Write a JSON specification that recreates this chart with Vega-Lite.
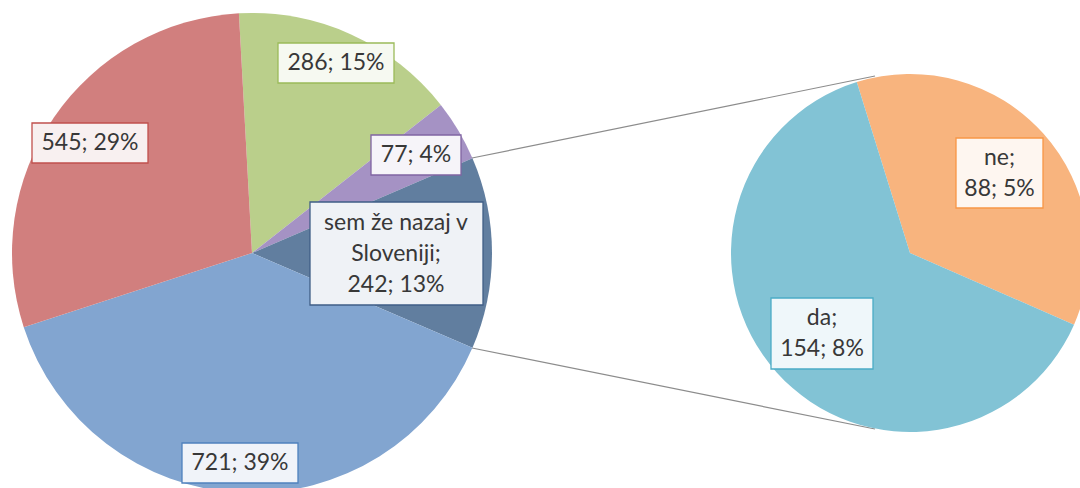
{
  "$schema": "https://vega.github.io/schema/vega-lite/v6.json",
  "width": 1080,
  "height": 488,
  "padding": 0,
  "autosize": "none",
  "background": "white",
  "config": {"view": {"stroke": null}, "axis": {"disable": true}, "legend": {"disable": true},
    "text": {"font": "Lato", "fontSize": 23, "color": "#383838", "align": "center", "baseline": "middle", "lineBreak": "\n", "lineHeight": 31}},
  "datasets": {
    "main": [
      {"cat": "A", "value": 286, "pct": 15, "k": 1, "label": "286; 15%"},
      {"cat": "B", "value": 77, "pct": 4, "k": 2, "label": "77; 4%"},
      {"cat": "sem že nazaj v Sloveniji", "value": 242, "pct": 13, "k": 3, "label": "sem že nazaj v\nSloveniji;\n242; 13%"},
      {"cat": "C", "value": 721, "pct": 39, "k": 4, "label": "721; 39%"},
      {"cat": "D", "value": 545, "pct": 29, "k": 5, "label": "545; 29%"}
    ],
    "second": [
      {"cat": "ne", "value": 88, "pct": 5, "k": 1, "label": "ne;\n88; 5%"},
      {"cat": "da", "value": 154, "pct": 8, "k": 2, "label": "da;\n154; 8%"}
    ]
  },
  "resolve": {"scale": {"theta": "independent"}},
  "layer": [
    {
      "data": {"name": "main"},
      "transform": [{"filter": "datum.k === 3"}],
      "mark": {"type": "rule", "color": "#8C8C8C", "strokeWidth": 1.2},
      "encoding": {
        "x": {"datum": 472, "type": "quantitative", "scale": {"domain": [0, 1080], "nice": false, "zero": false}},
        "y": {"datum": 158, "type": "quantitative", "scale": {"domain": [0, 488], "nice": false, "zero": false, "reverse": true}},
        "x2": {"datum": 875},
        "y2": {"datum": 76}
      }
    },
    {
      "data": {"name": "main"},
      "transform": [{"filter": "datum.k === 3"}],
      "mark": {"type": "rule", "color": "#8C8C8C", "strokeWidth": 1.2},
      "encoding": {
        "x": {"datum": 472, "type": "quantitative"},
        "y": {"datum": 348, "type": "quantitative"},
        "x2": {"datum": 875},
        "y2": {"datum": 429}
      }
    },
    {
      "data": {"name": "main"},
      "mark": {"type": "arc", "outerRadius": 240},
      "encoding": {
        "x": {"datum": 252, "type": "quantitative"},
        "y": {"datum": 253, "type": "quantitative"},
        "theta": {"field": "value", "type": "quantitative", "stack": true, "scale": {"range": [-0.05463, 6.22856]}},
        "order": {"field": "k", "type": "quantitative"},
        "color": {"field": "cat", "type": "nominal", "scale": {"domain": ["A", "B", "sem že nazaj v Sloveniji", "C", "D", "ne", "da"], "range": ["#BACF8B", "#A592C4", "#617E9F", "#82A5D0", "#D17F7E", "#F8B47E", "#82C3D5"]}}
      }
    },
    {
      "data": {"name": "second"},
      "mark": {"type": "arc", "outerRadius": 179},
      "encoding": {
        "x": {"datum": 910, "type": "quantitative"},
        "y": {"datum": 253, "type": "quantitative"},
        "theta": {"field": "value", "type": "quantitative", "stack": true, "scale": {"range": [-0.30194, 5.98125]}},
        "order": {"field": "k", "type": "quantitative"},
        "color": {"field": "cat", "type": "nominal", "scale": {"domain": ["A", "B", "sem že nazaj v Sloveniji", "C", "D", "ne", "da"], "range": ["#BACF8B", "#A592C4", "#617E9F", "#82A5D0", "#D17F7E", "#F8B47E", "#82C3D5"]}}
      }
    },
    {
      "data": {"name": "main"},
      "transform": [{"filter": "datum.k === 1"}],
      "layer": [
        {"mark": {"type": "rect", "fill": "#F6F9F1", "stroke": "#9BBB59", "strokeWidth": 1.3},
         "encoding": {"x": {"datum": 278, "type": "quantitative"}, "x2": {"datum": 394}, "y": {"datum": 43, "type": "quantitative"}, "y2": {"datum": 83}}},
        {"mark": {"type": "text"},
         "encoding": {"x": {"datum": 336, "type": "quantitative"}, "y": {"datum": 63, "type": "quantitative"}, "text": {"field": "label"}}}
      ]
    },
    {
      "data": {"name": "main"},
      "transform": [{"filter": "datum.k === 2"}],
      "layer": [
        {"mark": {"type": "rect", "fill": "#F6F4F9", "stroke": "#8064A2", "strokeWidth": 1.3},
         "encoding": {"x": {"datum": 371, "type": "quantitative"}, "x2": {"datum": 461}, "y": {"datum": 135, "type": "quantitative"}, "y2": {"datum": 175}}},
        {"mark": {"type": "text"},
         "encoding": {"x": {"datum": 416, "type": "quantitative"}, "y": {"datum": 155, "type": "quantitative"}, "text": {"field": "label"}}}
      ]
    },
    {
      "data": {"name": "main"},
      "transform": [{"filter": "datum.k === 3"}],
      "layer": [
        {"mark": {"type": "rect", "fill": "#EFF2F6", "stroke": "#3F5E86", "strokeWidth": 1.3},
         "encoding": {"x": {"datum": 310, "type": "quantitative"}, "x2": {"datum": 483}, "y": {"datum": 202, "type": "quantitative"}, "y2": {"datum": 305}}},
        {"mark": {"type": "text"},
         "encoding": {"x": {"datum": 396, "type": "quantitative"}, "y": {"datum": 222.5, "type": "quantitative"}, "text": {"field": "label"}}}
      ]
    },
    {
      "data": {"name": "main"},
      "transform": [{"filter": "datum.k === 4"}],
      "layer": [
        {"mark": {"type": "rect", "fill": "#F0F3F9", "stroke": "#4F81BD", "strokeWidth": 1.3},
         "encoding": {"x": {"datum": 182, "type": "quantitative"}, "x2": {"datum": 298}, "y": {"datum": 443, "type": "quantitative"}, "y2": {"datum": 483}}},
        {"mark": {"type": "text"},
         "encoding": {"x": {"datum": 240, "type": "quantitative"}, "y": {"datum": 463, "type": "quantitative"}, "text": {"field": "label"}}}
      ]
    },
    {
      "data": {"name": "main"},
      "transform": [{"filter": "datum.k === 5"}],
      "layer": [
        {"mark": {"type": "rect", "fill": "#F8F0F0", "stroke": "#C0504D", "strokeWidth": 1.3},
         "encoding": {"x": {"datum": 32, "type": "quantitative"}, "x2": {"datum": 148}, "y": {"datum": 123, "type": "quantitative"}, "y2": {"datum": 163}}},
        {"mark": {"type": "text"},
         "encoding": {"x": {"datum": 90, "type": "quantitative"}, "y": {"datum": 143, "type": "quantitative"}, "text": {"field": "label"}}}
      ]
    },
    {
      "data": {"name": "second"},
      "transform": [{"filter": "datum.k === 1"}],
      "layer": [
        {"mark": {"type": "rect", "fill": "#FEF6F0", "stroke": "#F79646", "strokeWidth": 1.3},
         "encoding": {"x": {"datum": 956, "type": "quantitative"}, "x2": {"datum": 1043}, "y": {"datum": 138, "type": "quantitative"}, "y2": {"datum": 208}}},
        {"mark": {"type": "text"},
         "encoding": {"x": {"datum": 999.5, "type": "quantitative"}, "y": {"datum": 157.5, "type": "quantitative"}, "text": {"field": "label"}}}
      ]
    },
    {
      "data": {"name": "second"},
      "transform": [{"filter": "datum.k === 2"}],
      "layer": [
        {"mark": {"type": "rect", "fill": "#EFF7FA", "stroke": "#4BACC6", "strokeWidth": 1.3},
         "encoding": {"x": {"datum": 771, "type": "quantitative"}, "x2": {"datum": 873}, "y": {"datum": 298, "type": "quantitative"}, "y2": {"datum": 369}}},
        {"mark": {"type": "text"},
         "encoding": {"x": {"datum": 822, "type": "quantitative"}, "y": {"datum": 318, "type": "quantitative"}, "text": {"field": "label"}}}
      ]
    }
  ]
}
